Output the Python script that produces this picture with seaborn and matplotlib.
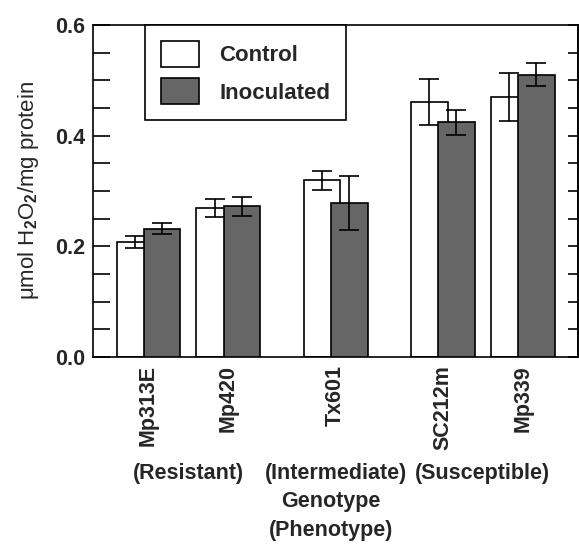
import matplotlib
matplotlib.use("Agg")
import matplotlib.pyplot as plt
import matplotlib.transforms as mtransforms
from matplotlib.patches import Patch
from matplotlib.ticker import MultipleLocator, FormatStrFormatter
import numpy as np
import seaborn as sns

genotypes = ["Mp313E", "Mp420", "Tx601", "SC212m", "Mp339"]
phenotypes = ["Resistant", "Resistant", "Intermediate", "Susceptible", "Susceptible"]
treatments = ["Control", "Inoculated"]
control_mean = [0.208, 0.269, 0.319, 0.461, 0.470]
control_err = [0.011, 0.016, 0.017, 0.041, 0.044]
inoculated_mean = [0.232, 0.272, 0.278, 0.424, 0.510]
inoculated_err = [0.010, 0.017, 0.049, 0.023, 0.021]

bar_colors = ["white", "#666666"]

# one unit per genotype plus an extra gap between phenotype groups
group_gap = 0.34
shift = 0.17
pheno_order = list(dict.fromkeys(phenotypes))
xpos = np.array([i + group_gap * pheno_order.index(p) for i, p in enumerate(phenotypes)])

sns.set_theme(style="white")
plt.rcParams["font.family"] = ["Liberation Sans", "DejaVu Sans"]
plt.rcParams["font.weight"] = "bold"
plt.rcParams["mathtext.fontset"] = "custom"
plt.rcParams["mathtext.rm"] = "Liberation Sans"
plt.rcParams["mathtext.it"] = "Liberation Sans"

fig = plt.figure(figsize=(5.79, 5.44), dpi=100)
ax = fig.add_axes([93 / 579, 1 - 357 / 544, 485 / 579, 332 / 544])

lw = 1.2
sns.barplot(x=xpos - shift, y=control_mean, native_scale=True, orient="x", width=0.46,
            color=bar_colors[0], saturation=1, edgecolor="black", linewidth=lw,
            errorbar=None, zorder=2, ax=ax)
ax.errorbar(xpos - shift, control_mean, yerr=control_err, fmt="none", ecolor="black",
            elinewidth=lw, capsize=7, capthick=lw, zorder=3)
sns.barplot(x=xpos + shift, y=inoculated_mean, native_scale=True, orient="x", width=0.46,
            color=bar_colors[1], saturation=1, edgecolor="black", linewidth=lw,
            errorbar=None, zorder=4, ax=ax)
ax.errorbar(xpos + shift, inoculated_mean, yerr=inoculated_err, fmt="none", ecolor="black",
            elinewidth=lw, capsize=7, capthick=lw, zorder=5)

ax.set_xlim(xpos[0] - 0.694, xpos[0] + 5.37)
ax.set_ylim(0, 0.6)
ax.set_xticks(xpos)
ax.set_xticklabels(genotypes, rotation=90, fontsize=15.5, fontweight="bold")
ax.tick_params(axis="x", length=0, pad=6)

ax.yaxis.set_major_locator(MultipleLocator(0.2))
ax.yaxis.set_minor_locator(MultipleLocator(0.05))
ax.yaxis.set_major_formatter(FormatStrFormatter("%.1f"))
ax.tick_params(axis="y", which="both", direction="in", length=12, width=lw,
               color="black", left=True, labelsize=15.5, pad=5.5)
for lbl in ax.get_yticklabels():
    lbl.set_fontweight("bold")

sec = ax.secondary_yaxis("right")
sec.yaxis.set_major_locator(MultipleLocator(0.05))
sec.tick_params(direction="in", length=7, width=lw, color="black", labelright=False)
for a in (ax, sec):
    for sp in a.spines.values():
        sp.set_color("black")
        sp.set_linewidth(lw)

ax.set_ylabel("\u03bcmol H$_2$O$_2$/mg protein", fontsize=16, fontweight="normal")
ax.yaxis.set_label_coords(-0.108, 0.5)

ax.set_xlabel("Genotype\n(Phenotype)", fontsize=15.5, fontweight="bold", linespacing=1.45)
ax.xaxis.set_label_coords(0.49, -0.405)

blend = mtransforms.blended_transform_factory(ax.transData, ax.transAxes)
for ph in pheno_order:
    xs = xpos[[p == ph for p in phenotypes]]
    ax.text(xs.mean(), -0.35, f"({ph})", transform=blend, ha="center", va="center",
            fontsize=15.5, fontweight="bold")

handles = [Patch(facecolor=c, edgecolor="black", linewidth=lw) for c in bar_colors]
leg = ax.legend(handles, treatments, loc="upper left", bbox_to_anchor=((145 - 93) / 485, 1.0),
                borderaxespad=0, fontsize=16, frameon=True, fancybox=False, framealpha=1,
                edgecolor="black", handlelength=1.75, handleheight=1.45, handletextpad=0.9,
                labelspacing=0.5, borderpad=0.7)
leg.get_frame().set_linewidth(lw)

fig.savefig("out.png", dpi=100)
